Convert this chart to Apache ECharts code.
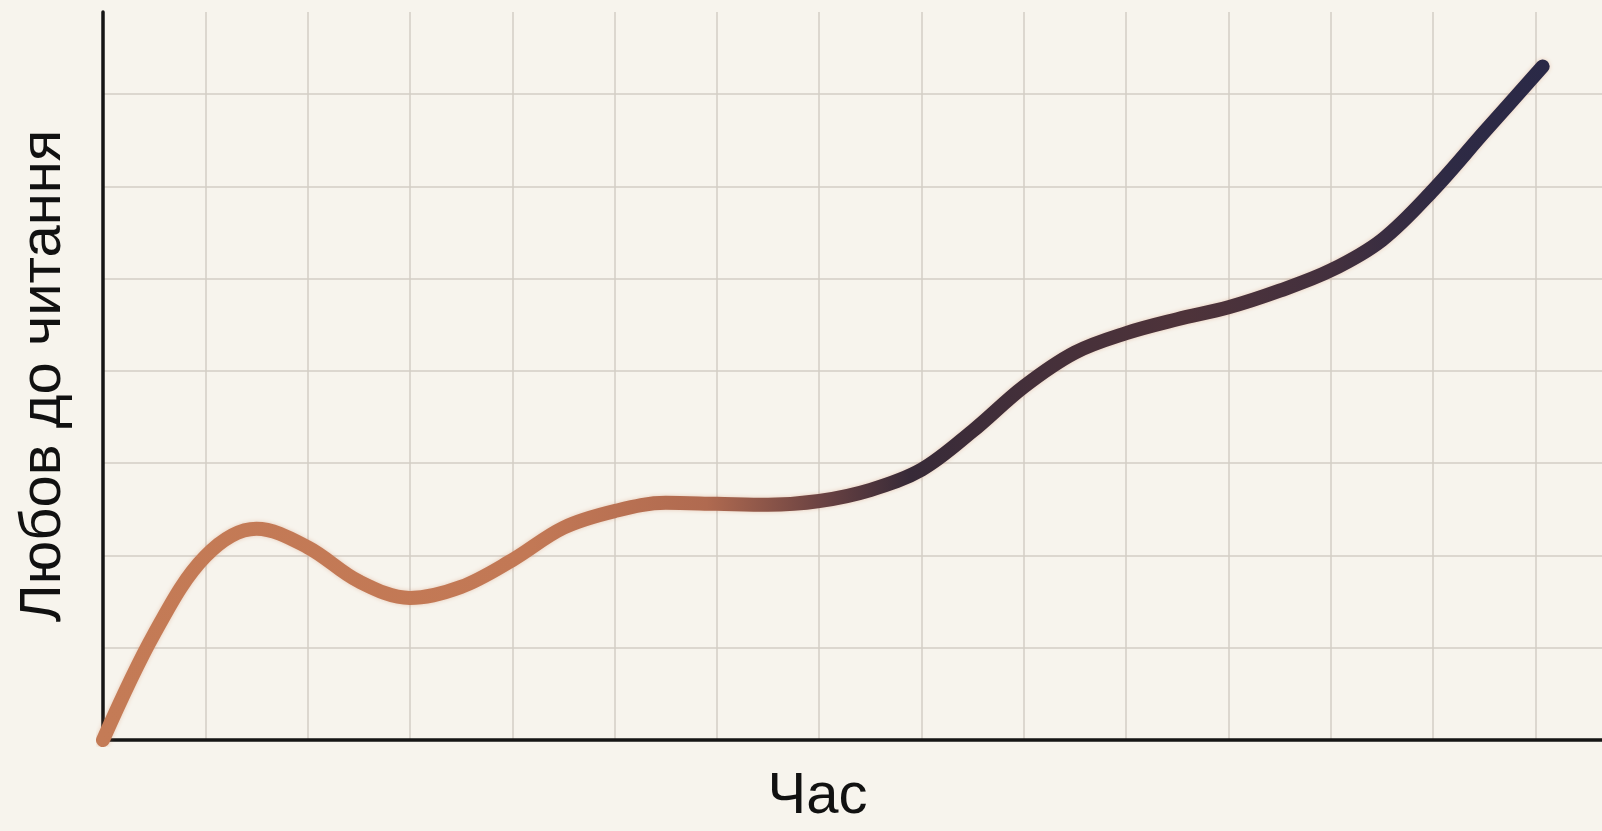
<!DOCTYPE html>
<html>
<head>
<meta charset="utf-8">
<script src="https://cdn.jsdelivr.net/npm/echarts@6/dist/echarts.min.js"></script>
<style>
html,body{margin:0;padding:0;background:#f7f4ed;}
#chart{width:1602px;height:831px;}
</style>
</head>
<body>
<div id="chart"></div>
<script>
var xName = 'Час';
var yName = 'Любов до читання';
var timeValues = [0, 0.5, 1, 1.5, 2, 2.5, 3, 3.5, 4, 4.5, 5, 5.5, 6, 6.5, 7, 7.5, 8, 8.5, 9, 9.5, 10, 10.5, 11, 11.5, 12, 12.5, 13, 13.5, 14.07];
var loveValues = [0, 1.15, 1.99, 2.29, 2.09, 1.72, 1.54, 1.66, 1.95, 2.3, 2.48, 2.57, 2.56, 2.55, 2.59, 2.71, 2.93, 3.35, 3.83, 4.2, 4.41, 4.56, 4.69, 4.87, 5.09, 5.42, 5.96, 6.59, 7.3];

var points = timeValues.map(function (t, i) { return [t, loveValues[i]]; });

var chart = echarts.init(document.getElementById('chart'));
var font = 'Arial, "Liberation Sans", sans-serif';
chart.setOption({
  backgroundColor: '#f7f4ed',
  animation: false,
  grid: { left: 103, right: 0, top: 12, bottom: 85, containLabel: false },
  xAxis: {
    type: 'value', min: 0, max: 14.65, interval: 1,
    name: xName, nameLocation: 'middle', nameGap: 28,
    nameTextStyle: { fontFamily: font, fontSize: 58, color: '#111', padding: [0, 70, 0, 0] },
    axisLine: { show: true, lineStyle: { color: '#151515', width: 3.5 } },
    axisTick: { show: false }, axisLabel: { show: false },
    splitLine: { show: true, showMinLine: false, showMaxLine: false, lineStyle: { color: '#d3cec5', width: 1.5 } }
  },
  yAxis: {
    type: 'value', min: 0, max: 7.89, interval: 1,
    name: yName, nameLocation: 'middle', nameGap: 30,
    nameTextStyle: { fontFamily: font, fontSize: 58, color: '#111' },
    axisLine: { show: true, lineStyle: { color: '#151515', width: 3.5 } },
    axisTick: { show: false }, axisLabel: { show: false },
    splitLine: { show: true, showMinLine: false, showMaxLine: false, lineStyle: { color: '#d3cec5', width: 1.5 } }
  },
  series: [{
    type: 'line', data: points, smooth: 0.35, symbol: 'none',
    lineStyle: {
      width: 14, cap: 'round', join: 'round',
      shadowColor: 'rgba(200,120,80,0.35)', shadowBlur: 4,
      color: new echarts.graphic.LinearGradient(0, 0, 1, 0, [
        { offset: 0, color: '#c47b56' },
        { offset: 0.3, color: '#c27855' },
        { offset: 0.42, color: '#b06a50' },
        { offset: 0.5, color: '#6a4242' },
        { offset: 0.56, color: '#372a38' },
        { offset: 0.65, color: '#45303a' },
        { offset: 0.75, color: '#4e333a' },
        { offset: 0.85, color: '#43303e' },
        { offset: 0.93, color: '#2e2a44' },
        { offset: 1, color: '#2a2947' }
      ])
    }
  }]
});
</script>
</body>
</html>
